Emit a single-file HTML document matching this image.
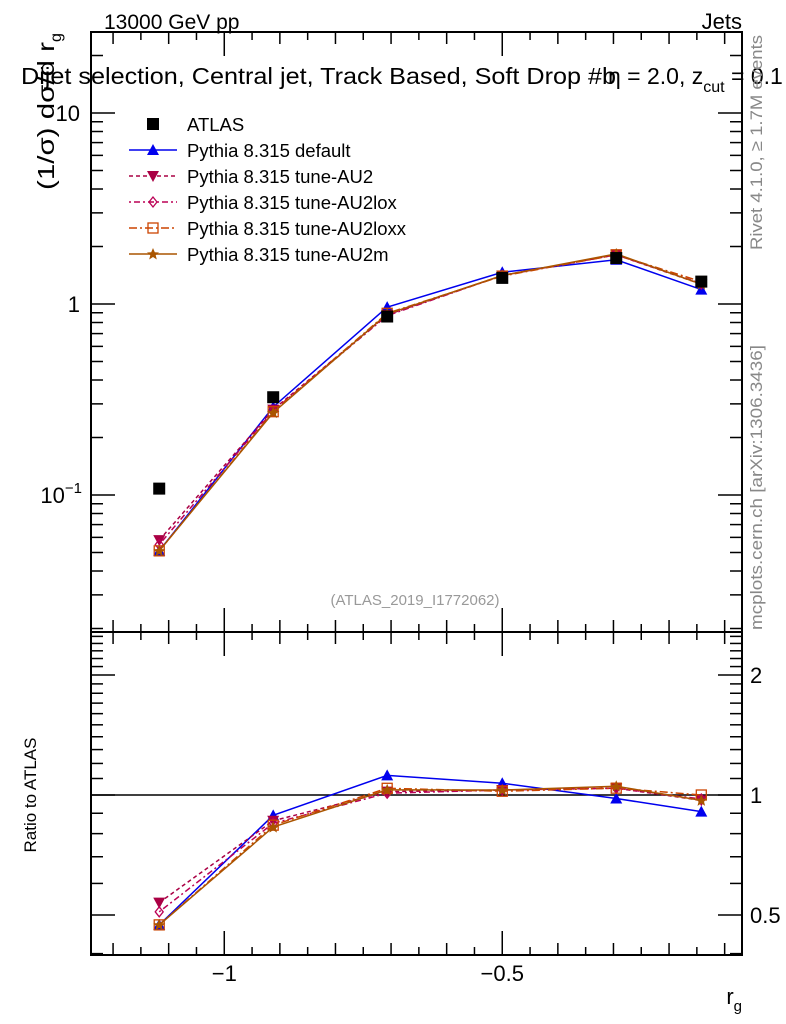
<!DOCTYPE html>
<html><head><meta charset="utf-8"><style>
html,body{margin:0;padding:0;background:#fff;}
svg{display:block;font-family:"Liberation Sans",sans-serif;}
</style></head><body>
<svg id="chart" width="786" height="1024" viewBox="0 0 786 1024">
<text x="104" y="29" font-size="21">13000 GeV pp</text>
<text x="742" y="29" font-size="22" text-anchor="end">Jets</text>
<rect x="91" y="32" width="651" height="600" fill="none" stroke="#000" stroke-width="2"/>
<rect x="91" y="632" width="651" height="323" fill="none" stroke="#000" stroke-width="2"/>
<text x="21" y="84" font-size="23"><tspan textLength="595" lengthAdjust="spacingAndGlyphs">Dijet selection, Central jet, Track Based, Soft Drop #b</tspan><tspan x="608">η = 2.0, z</tspan><tspan font-size="16" dy="8">cut</tspan><tspan dy="-8"> = 0.1</tspan></text>
<text transform="translate(54,190) rotate(-90)" font-size="23"><tspan textLength="148" lengthAdjust="spacingAndGlyphs">(1/σ) dσ/d r</tspan><tspan font-size="16" dy="7">g</tspan></text>
<text transform="translate(36,795) rotate(-90)" font-size="17" text-anchor="middle">Ratio to ATLAS</text>
<text x="742" y="1004" font-size="22" text-anchor="end">r<tspan font-size="15" dy="7">g</tspan></text>
<text transform="translate(762,250) rotate(-90)" font-size="17" fill="#888" textLength="215" lengthAdjust="spacingAndGlyphs">Rivet 4.1.0, ≥ 1.7M events</text>
<text transform="translate(762,630) rotate(-90)" font-size="17" fill="#888" textLength="285" lengthAdjust="spacingAndGlyphs">mcplots.cern.ch [arXiv:1306.3436]</text>
<text x="415" y="605" font-size="15" fill="#999" text-anchor="middle">(ATLAS_2019_I1772062)</text>
<g id="axes"></g>
<g id="series"></g>
<g id="legend"></g>
</svg>
<script>
const xVals = [-1.117, -0.912, -0.707, -0.5, -0.295, -0.142];
const atlas = [0.108, 0.325, 0.86, 1.37, 1.74, 1.31];
const atlasErr = [0.004, 0.008, 0.015, 0.02, 0.025, 0.02];
const pyDefault = [0.051, 0.289, 0.963, 1.466, 1.705, 1.19];
const pyAU2 = [0.058, 0.280, 0.877, 1.41, 1.81, 1.27];
const pyAU2lox = [0.055, 0.276, 0.869, 1.41, 1.81, 1.28];
const pyAU2loxx = [0.051, 0.273, 0.894, 1.40, 1.81, 1.31];
const pyAU2m = [0.051, 0.270, 0.886, 1.41, 1.83, 1.27];
const xTickLabels = ["−1", "−0.5"];
const xTickValues = [-1, -0.5];
const mainTickValues = [0.1, 1, 10];
const mainTickLabels = ["10", "1", "10"];
const ratioTickValues = [0.5, 1, 2];
const ratioTickLabels = ["0.5", "1", "2"];

const NS = "http://www.w3.org/2000/svg";
const X0 = 91, X1 = 742, MT = 32, MB = 632, RT = 632, RB = 955;
const xMin = -1.2397, xMax = -0.0688;
function xs(v){ return X0 + (v - xMin) / (xMax - xMin) * (X1 - X0); }
function ym(v){ return 304 - Math.log10(v) * 191; }
function yr(v){ return 795 - Math.log10(v) * 398.6; }
function mk(tag, attrs, parent){ const e = document.createElementNS(NS, tag); for (const k in attrs) e.setAttribute(k, attrs[k]); parent.appendChild(e); return e; }

const axes = document.getElementById('axes');
for (let v = -1.2; v <= -0.07; v += 0.05) {
  const vv = Math.round(v * 100) / 100;
  const major = Math.abs(vv + 1) < 1e-6 || Math.abs(vv + 0.5) < 1e-6;
  const mid = Math.abs(Math.round(vv * 10) - vv * 10) < 1e-6;
  const len = major ? 24 : (mid ? 12 : 8);
  const x = xs(vv);
  [[MT, 1], [MB, -1], [RT, 1], [RB, -1]].forEach(([y, d]) => {
    const t = mk('line', {x1: x, x2: x, y1: y, y2: y + d * len, stroke: '#000', 'stroke-width': 1.5}, axes);
    
    
  });
}
xTickValues.forEach((v, i) => {
  const t = mk('text', {x: xs(v), y: 981, 'font-size': 22, 'text-anchor': 'middle'}, axes);
  t.textContent = xTickLabels[i];
  
  
});
for (let e = -2; e <= 1; e++) {
  for (let m = 1; m <= 9; m++) {
    const v = m * Math.pow(10, e);
    const y = ym(v);
    if (y < MT || y > MB) continue;
    const len = m === 1 ? 24 : 12;
    [[X0, 1], [X1, -1]].forEach(([x, d]) => {
      const t = mk('line', {x1: x, x2: x + d * len, y1: y, y2: y, stroke: '#000', 'stroke-width': 1.5}, axes);
      
      
    });
  }
}
mainTickValues.forEach((v, i) => {
  const t = mk('text', {x: 80, y: ym(v) + 8, 'font-size': 22, 'text-anchor': 'end'}, axes);
  t.textContent = mainTickLabels[i];
  if (v === 0.1) { const s = mk('tspan', {'font-size': 15, dy: -10}, t); s.textContent = '−1'; t.setAttribute('x', 82); }
  
  
});
[0.4,0.5,0.6,0.7,0.8,0.9,1,1.1,1.2,1.3,1.4,1.5,1.6,1.7,1.8,1.9,2,2.1,2.2,2.3,2.4,2.5].forEach(v => {
  const y = yr(v);
  if (y < RT || y > RB) return;
  const len = (v === 0.5 || v === 1 || v === 2) ? 24 : 12;
  [[X0, 1], [X1, -1]].forEach(([x, d]) => {
    const t = mk('line', {x1: x, x2: x + d * len, y1: y, y2: y, stroke: '#000', 'stroke-width': 1.5}, axes);
    
    
  });
});
ratioTickValues.forEach((v, i) => {
  const t = mk('text', {x: 750, y: yr(v) + 8, 'font-size': 22}, axes);
  t.textContent = ratioTickLabels[i];
  
  
});
const one = mk('line', {x1: X0, x2: X1, y1: yr(1), y2: yr(1), stroke: '#000', 'stroke-width': 1.5}, axes);



const seriesG = document.getElementById('series');
const mcSeries = [
  {name: 'default', vals: pyDefault, color: '#0000ee', dash: '', marker: 'tri'},
  {name: 'au2', vals: pyAU2, color: '#aa0044', dash: '4,3', marker: 'itri'},
  {name: 'au2lox', vals: pyAU2lox, color: '#bb0055', dash: '2,3,6,3', marker: 'diamond'},
  {name: 'au2loxx', vals: pyAU2loxx, color: '#cc4400', dash: '8,3,2,3', marker: 'square'},
  {name: 'au2m', vals: pyAU2m, color: '#aa5500', dash: '', marker: 'star'}
];
function marker(type, x, y, color, parent) {
  let e;
  if (type === 'tri') e = mk('polygon', {points: `${x},${y-6} ${x-6},${y+5} ${x+6},${y+5}`, fill: color}, parent);
  else if (type === 'itri') e = mk('polygon', {points: `${x},${y+6} ${x-6},${y-5} ${x+6},${y-5}`, fill: color}, parent);
  else if (type === 'diamond') e = mk('polygon', {points: `${x},${y-5} ${x-4},${y} ${x},${y+5} ${x+4},${y}`, fill: 'none', stroke: color, 'stroke-width': 1.3}, parent);
  else if (type === 'square') e = mk('rect', {x: x-5, y: y-5, width: 10, height: 10, fill: 'none', stroke: color, 'stroke-width': 1.3}, parent);
  else if (type === 'star') e = mk('polygon', {points: `${x},${y-6} ${x+1.8},${y-1.8} ${x+6},${y-1.5} ${x+2.7},${y+1.3} ${x+3.8},${y+5.5} ${x},${y+3} ${x-3.8},${y+5.5} ${x-2.7},${y+1.3} ${x-6},${y-1.5} ${x-1.8},${y-1.8}`, fill: color}, parent);
  else e = mk('rect', {x: x-6, y: y-6, width: 12, height: 12, fill: color}, parent);
  return e;
}
mcSeries.forEach(s => {
  const g = mk('g', {}, seriesG);
  
  
  const pm = xVals.map((x, i) => xs(x) + ',' + ym(s.vals[i])).join(' ');
  const pr = xVals.map((x, i) => xs(x) + ',' + yr(s.vals[i] / atlas[i])).join(' ');
  const l1 = mk('polyline', {points: pm, fill: 'none', stroke: s.color, 'stroke-width': 1.5, 'stroke-dasharray': s.dash}, g);
  
  
  const l2 = mk('polyline', {points: pr, fill: 'none', stroke: s.color, 'stroke-width': 1.5, 'stroke-dasharray': s.dash}, g);
  
  
  xVals.forEach((x, i) => {
    const m1 = marker(s.marker, xs(x), ym(s.vals[i]), s.color, g);
    
    
    const m2 = marker(s.marker, xs(x), yr(s.vals[i] / atlas[i]), s.color, g);
    
    
  });
});
const dg = mk('g', {}, seriesG);


xVals.forEach((x, i) => {
  const eb = mk('line', {x1: xs(x), x2: xs(x), y1: ym(atlas[i] + atlasErr[i]), y2: ym(atlas[i] - atlasErr[i]), stroke: '#000', 'stroke-width': 1.5}, dg);
  
  
  const p = marker('sq', xs(x), ym(atlas[i]), '#000', dg);
  
  
});

const lg = document.getElementById('legend');


const legendLabels = ['ATLAS', 'Pythia 8.315 default', 'Pythia 8.315 tune-AU2', 'Pythia 8.315 tune-AU2lox', 'Pythia 8.315 tune-AU2loxx', 'Pythia 8.315 tune-AU2m'];
legendLabels.forEach((lab, i) => {
  const y = 124 + i * 26;
  const g = mk('g', {}, lg);
  
  
  if (i === 0) marker('sq', 153, y, '#000', g);
  else {
    const s = mcSeries[i - 1];
    mk('line', {x1: 129, x2: 177, y1: y, y2: y, stroke: s.color, 'stroke-width': 1.5, 'stroke-dasharray': s.dash}, g);
    marker(s.marker, 153, y, s.color, g);
  }
  const t = mk('text', {x: 187, y: y + 7, 'font-size': 18.5}, g);
  t.textContent = lab;
});
</script>
</body></html>
